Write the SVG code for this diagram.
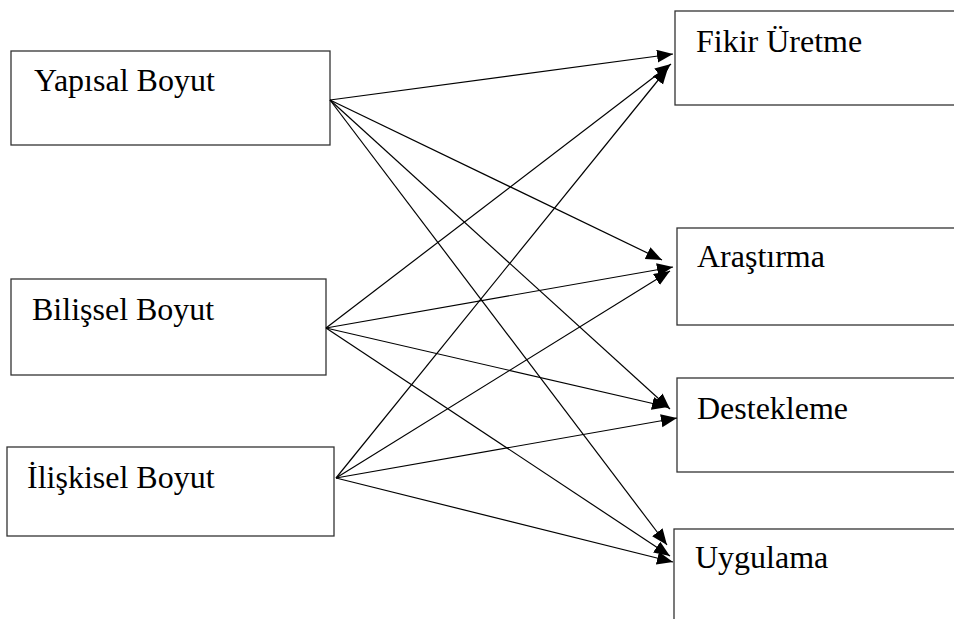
<svg xmlns="http://www.w3.org/2000/svg" width="954" height="619" viewBox="0 0 954 619">
<style>
.box{fill:#fff;stroke:#333;stroke-width:1.3}
.lbl{font-family:"Liberation Serif","Times New Roman",serif;font-size:32px;fill:#000}
.conn line{stroke:#000;stroke-width:1.2;marker-end:url(#ah)}
</style>
<defs>
<marker id="ah" markerUnits="userSpaceOnUse" markerWidth="18" markerHeight="14" refX="16" refY="6.5" orient="auto">
<path d="M0,0 L16,6.5 L0,13 Z" fill="#000"/>
</marker>
</defs>
<rect width="954" height="619" fill="#fff"/>
<g id="yapisal"><rect class="box" x="11" y="51" width="319" height="94"/><text class="lbl" x="34" y="91">Yapısal Boyut</text></g>
<g id="bilissel"><rect class="box" x="11" y="279" width="315" height="96"/><text class="lbl" x="32" y="320">Bilişsel Boyut</text></g>
<g id="iliskisel"><rect class="box" x="7" y="447" width="327" height="89"/><text class="lbl" x="27" y="488">İlişkisel Boyut</text></g>
<g id="fikir"><rect class="box" x="675" y="11" width="300" height="94"/><text class="lbl" x="696" y="52">Fikir Üretme</text></g>
<g id="arastirma"><rect class="box" x="677" y="228" width="300" height="97"/><text class="lbl" x="697" y="267">Araştırma</text></g>
<g id="destekleme"><rect class="box" x="677" y="378" width="300" height="94"/><text class="lbl" x="697" y="419">Destekleme</text></g>
<g id="uygulama"><rect class="box" x="674" y="529" width="300" height="120"/><text class="lbl" x="695" y="568">Uygulama</text></g>
<g class="conn" id="connectors">
<line x1="330" y1="100" x2="673" y2="54"/>
<line x1="330" y1="100" x2="662" y2="260"/>
<line x1="330" y1="100" x2="670" y2="409"/>
<line x1="330" y1="100" x2="667" y2="545"/>
<line x1="326" y1="328" x2="671" y2="64"/>
<line x1="326" y1="328" x2="673" y2="267"/>
<line x1="326" y1="328" x2="668" y2="407"/>
<line x1="326" y1="328" x2="670" y2="556"/>
<line x1="336" y1="478" x2="668" y2="68"/>
<line x1="336" y1="478" x2="670" y2="271"/>
<line x1="336" y1="478" x2="677" y2="418"/>
<line x1="336" y1="478" x2="673" y2="562"/>
</g>
</svg>
